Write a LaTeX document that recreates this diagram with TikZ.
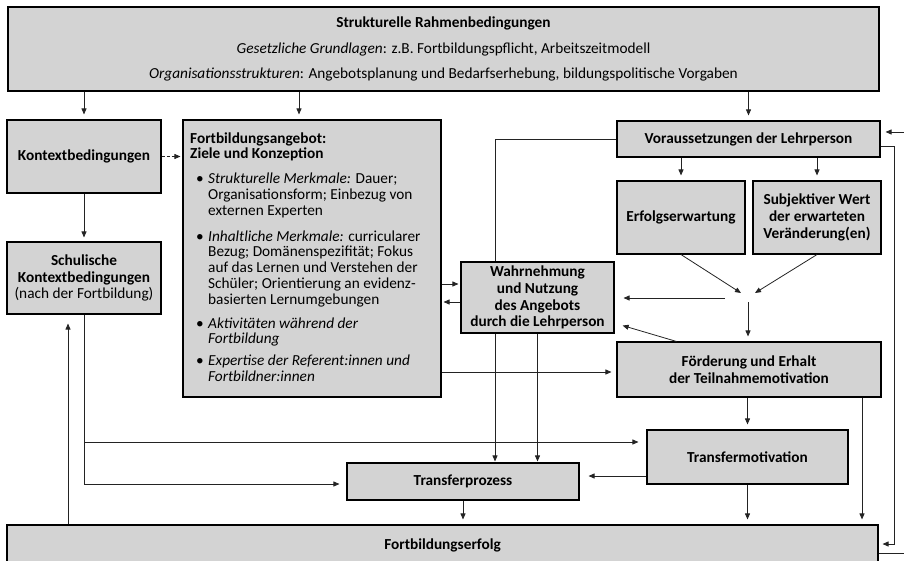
\documentclass[tikz,border=0pt]{standalone}
\usepackage{fontspec}
\setmainfont{Carlito}
\usetikzlibrary{arrows.meta,calc}
\definecolor{boxgray}{RGB}{211,211,211}
\definecolor{linegray}{RGB}{35,35,35}
\newcommand{\bul}{\makebox[18pt][l]{\hspace{6pt}\textbullet}}
\newcommand{\ind}{\hspace*{18pt}}
\begin{document}
\begin{tikzpicture}[x=1pt,y=-1pt,
  box/.style={draw=black,fill=boxgray,line width=1.1pt,inner sep=0pt,align=center,
    font=\fontsize{15.3}{16.7}\selectfont\bfseries},
  conn/.style={draw=linegray,line width=0.8pt},
  arr/.style={conn,-{Triangle[length=6pt,width=5pt]},shorten >=5pt},
]
\useasboundingbox (0,0) rectangle (904,561);
\clip (0,0) rectangle (904,561);

% boxes
\node[box,minimum width=871pt,minimum height=84pt,font=\fontsize{15.3}{25.3}\selectfont] (top) at (443.5,49)
  {{\bfseries Strukturelle Rahmenbedingungen}\\
   \textit{Gesetzliche Grundlagen}: z.B. Fortbildungspflicht, Arbeitszeitmodell\\
   \textit{Organisationsstrukturen}: Angebotsplanung und Bedarfserhebung, bildungspolitische Vorgaben};
\node[box,minimum width=154pt,minimum height=73pt] (kon) at (84,156.5) {Kontextbedingungen};
\node[box,minimum width=154pt,minimum height=72pt] (sk) at (84,278)
  {Schulische\\Kontextbedingungen\\{\mdseries(nach der Fortbildung)}};
\node[box,minimum width=258pt,minimum height=277pt] (fa) at (312,258.5) {};
\node[font=\fontsize{15.3}{15.8}\selectfont,align=left,anchor=west,inner sep=0pt] (fatxt) at (190,257) {%
\textbf{Fortbildungsangebot:}\\
\textbf{Ziele und Konzeption}\\[9pt]
\bul\textit{Strukturelle Merkmale:} Dauer;\\
\ind Organisationsform; Einbezug von\\
\ind externen Experten\\[10pt]
\bul\textit{Inhaltliche Merkmale:} curricularer\\
\ind Bezug; Domänenspezifität; Fokus\\
\ind auf das Lernen und Verstehen der\\
\ind Schüler; Orientierung an evidenz-\\
\ind basierten Lernumgebungen\\[8pt]
\bul\textit{Aktivitäten während der}\\
\ind\textit{Fortbildung}\\[6pt]
\bul\textit{Expertise der Referent:innen und}\\
\ind\textit{Fortbildner:innen}};
\node[box,minimum width=263pt,minimum height=36pt] (vor) at (748.5,139) {Voraussetzungen der Lehrperson};
\node[box,minimum width=128pt,minimum height=73pt] (erf) at (681,217.5) {Erfolgserwartung};
\node[box,minimum width=128pt,minimum height=73pt] (sub) at (817,217.5) {Subjektiver Wert\\der erwarteten\\Veränderung(en)};
\node[box,minimum width=153pt,minimum height=71pt] (wahr) at (537.5,297.5) {Wahrnehmung\\und Nutzung\\des Angebots\\durch die Lehrperson};
\node[box,minimum width=264pt,minimum height=55pt] (foe) at (749,369.5) {Förderung und Erhalt\\der Teilnahmemotivation};
\node[box,minimum width=201pt,minimum height=54pt] (tm) at (747.5,457) {Transfermotivation};
\node[box,minimum width=232pt,minimum height=37pt] (tp) at (463,481.5) {Transferprozess};
\node[box,minimum width=871pt,minimum height=40pt] (fe) at (442.5,545) {Fortbildungserfolg};

% helper coordinates
\coordinate (xFa) at (299,0);
\coordinate (xW1) at (495,0);
\coordinate (x68) at (68,0);
\coordinate (x862) at (862,0);
\coordinate (xIn) at (894,0);
\coordinate (xOut) at (925,0);
\coordinate (yVin) at (0,132);
\coordinate (yVout) at (0,146);
\coordinate (yFe1) at (0,544);
\coordinate (yFe2) at (0,553);
\coordinate (yFaR) at (0,284);
\coordinate (yFaL) at (0,302);
\coordinate (yFoe) at (0,372);
\coordinate (yTm) at (0,442);
\coordinate (yTp) at (0,484);
\coordinate (yTmTp) at (0,476);
\coordinate (hubA) at (741,293);
\coordinate (hubB) at (755,293);
\coordinate (hubL) at (725,298);
\coordinate (hubD) at (748,302);
\coordinate (wIn) at (614,323);

% connectors
\draw[arr] (top.south -| kon.north) -- (kon.north);
\draw[arr] (top.south -| xFa) -- (xFa |- fa.north);
\draw[arr] (top.south -| vor.north) -- (vor.north);
\draw[arr,shorten >=4pt] (kon.south) -- (sk.north);
\draw[arr,dash pattern=on 3pt off 2pt,shorten >=2pt] (kon.east) -- (kon.east -| fa.west);
\draw[arr] (vor.south -| erf.north) -- (erf.north);
\draw[arr] (vor.south -| sub.north) -- (sub.north);
\draw[arr,shorten >=0pt] (erf.south) -- (hubA);
\draw[arr,shorten >=0pt] (sub.south) -- (hubB);
\draw[arr,shorten >=9pt] (hubL) -- (hubL -| wahr.east);
\draw[arr] (hubD) -- (hubD |- foe.north);
\draw[arr,shorten >=9pt] ([xshift=60pt]foe.north west) -- (wIn);
\draw[conn] (vor.west) -| (xW1 |- wahr.north);
\draw[arr,shorten >=1pt] (xW1 |- wahr.south) -- (xW1 |- tp.north);
\draw[arr,shorten >=1pt] (wahr.south) -- (wahr.south |- tp.north);
\draw[arr,shorten >=2pt] (yFaR -| fa.east) -- (yFaR -| wahr.west);
\draw[arr,shorten >=2pt] (yFaL -| wahr.west) -- (yFaL -| fa.east);
\draw[arr] (yFoe -| fa.east) -- (yFoe -| foe.west);
\draw[arr] (foe.south -| tm.north) -- (tm.north);
\draw[arr] (tm.south) -- (tm.south |- fe.north);
\draw[arr] (x862 |- foe.south) -- (x862 |- fe.north);
\draw[arr,shorten >=9pt] (yTmTp -| tm.west) -- (yTmTp -| tp.east);
\draw[arr] (tp.south) -- (tp.south |- fe.north);
\draw[arr,shorten >=4pt] (vor.east |- yVout) -| (xIn |- yFe1) -- (yFe1 -| fe.east);
\draw[arr,shorten >=5pt] (yFe2 -| fe.east) -| (xOut |- yVin) -- (yVin -| vor.east);
\draw[arr,shorten >=7pt] (sk.south) -- (sk.south |- yTp) -- (yTp -| tp.west);
\draw[arr,shorten >=8pt] (sk.south |- yTm) -- (yTm -| tm.west);
\draw[arr,shorten >=9pt] (x68 |- fe.north) -- (x68 |- sk.south);
\end{tikzpicture}
\end{document}
